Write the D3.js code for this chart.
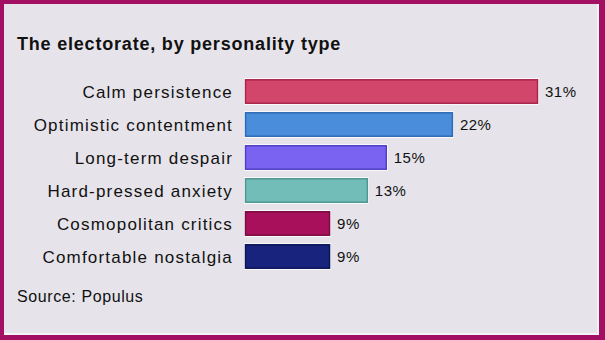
<!DOCTYPE html>
<html>
<head>
<meta charset="utf-8">
<script src="https://cdn.jsdelivr.net/npm/d3@7"></script>
<style>
  html, body { margin: 0; padding: 0; background: #a30f62; }
  svg { display: block; font-family: "Liberation Sans", Arial, sans-serif; }
</style>
</head>
<body>
<svg id="chart" width="605" height="340"></svg>
<script>
const categories = ['Calm persistence', 'Optimistic contentment', 'Long-term despair', 'Hard-pressed anxiety', 'Cosmopolitan critics', 'Comfortable nostalgia'];
const values = [31, 22, 15, 13, 9, 9];
const barColors = ['#d3466c', '#4a8ddb', '#7a63f0', '#72bdb7', '#a8105c', '#17237c'];
const barStrokes = ['#a8244a', '#2e69b4', '#4f3fc4', '#4f968f', '#7a0a40', '#0c1556'];

const width = 605, height = 340;
const svg = d3.select('#chart');

// frame
svg.append('rect').attr('width', width).attr('height', height).attr('fill', '#a30f62');
svg.append('rect')
  .attr('x', 4).attr('y', 4).attr('width', width - 10).attr('height', height - 9)
  .attr('fill', '#f4f3f6');
svg.append('rect')
  .attr('x', 4).attr('y', 4).attr('width', width - 12).attr('height', height - 11)
  .attr('fill', '#e6e4ea');

svg.append('text')
  .attr('x', 17).attr('y', 50)
  .attr('font-size', 18).attr('font-weight', 'bold').attr('fill', '#111')
  .attr('letter-spacing', 0.8)
  .text('The electorate, by personality type');

const x = d3.scaleLinear().domain([0, 31]).range([245, 538]);
const y = d3.scaleBand().domain(categories).range([76, 272]).paddingInner(0.26).paddingOuter(0.1);

const rows = svg.append('g').selectAll('g')
  .data(categories)
  .join('g');

rows.append('rect')
  .attr('x', x(0) - 1)
  .attr('y', d => y(d) - 1)
  .attr('width', (d, i) => x(values[i]) - x(0) + 2)
  .attr('height', y.bandwidth() + 2)
  .attr('fill', '#fff');

rows.append('rect')
  .attr('x', x(0) + 0.5)
  .attr('y', d => y(d) + 0.5)
  .attr('width', (d, i) => x(values[i]) - x(0) - 1)
  .attr('height', y.bandwidth() - 1)
  .attr('fill', (d, i) => barColors[i])
  .attr('stroke', (d, i) => barStrokes[i])
  .attr('stroke-width', 1.5);

rows.append('text')
  .attr('x', 233)
  .attr('y', d => y(d) + y.bandwidth() / 2)
  .attr('dy', '0.36em')
  .attr('text-anchor', 'end')
  .attr('font-size', 17).attr('fill', '#111')
  .attr('letter-spacing', 1.2)
  .text(d => d);

rows.append('text')
  .attr('x', (d, i) => x(values[i]) + 7)
  .attr('y', d => y(d) + y.bandwidth() / 2)
  .attr('dy', '0.36em')
  .attr('font-size', 15).attr('fill', '#111')
  .attr('letter-spacing', 0.5)
  .text((d, i) => values[i] + '%');

svg.append('text')
  .attr('x', 17).attr('y', 302)
  .attr('font-size', 16).attr('fill', '#111')
  .attr('letter-spacing', 0.6)
  .text('Source: Populus');
</script>
</body>
</html>
